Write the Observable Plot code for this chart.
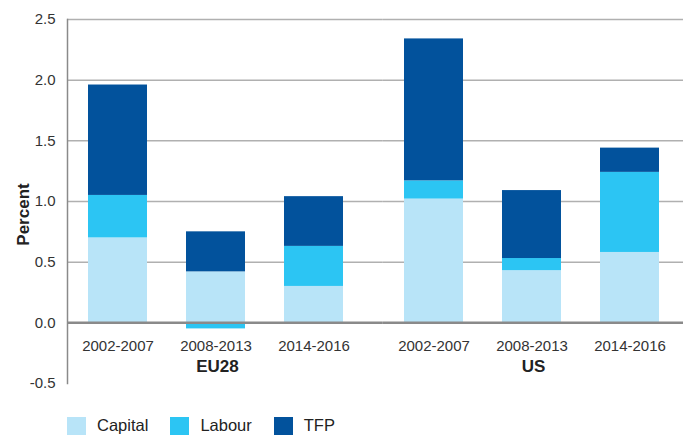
<!DOCTYPE html>
<html><head><meta charset="utf-8">
<script src="https://cdn.jsdelivr.net/npm/d3@7"></script>
<script src="https://cdn.jsdelivr.net/npm/@observablehq/plot@0.6"></script>
<style>
body{margin:0;background:#fff;font-family:"Liberation Sans",Arial,Helvetica,sans-serif;}
#chart{position:relative;width:693px;height:437px;overflow:hidden;}
#chart svg{position:absolute;left:0;top:0;}
.legend{position:absolute;left:67px;top:416px;display:flex;align-items:center;font-size:16.5px;color:#222;}
.item{display:flex;align-items:center;margin-right:22px;}
.sw{width:19px;height:18px;margin-right:11px;}
</style></head><body><div id="chart"></div>
<script>
const regions = ["EU28", "US"];
const periods = ["2002-2007", "2008-2013", "2014-2016"];
const components = ["Capital", "Labour", "TFP"];
const capital = [0.70, 0.42, 0.30, 1.02, 0.43, 0.58];
const labour  = [0.35, -0.05, 0.33, 0.15, 0.10, 0.66];
const tfp     = [0.91, 0.33, 0.41, 1.17, 0.56, 0.20];
const colors = ["#b8e4f8", "#2cc5f3", "#02529c"];
const yTicks = [-0.5, 0, 0.5, 1.0, 1.5, 2.0, 2.5];

const series = [capital, labour, tfp];
const rows = [];
regions.forEach((r, ri) => periods.forEach((p, pi) => {
  components.forEach((c, ci) => rows.push({region: r, period: p, component: c, value: series[ci][ri * 3 + pi]}));
}));
const labelRows = regions.flatMap(r => periods.map(p => ({region: r, period: p})));
const gridTicks = yTicks.filter(t => t > 0);
const gridEU = gridTicks.map(t => ({region: "EU28", t}));
const gridUS = gridTicks.map(t => ({region: "US", t}));

const W = 693, H = 400, mL = 66, mR = 9;
const fxPad = 0.05;
const gap = (W - mL - mR) / (2 - fxPad) * fxPad;

const plot = Plot.plot({
  width: W, height: H,
  marginLeft: mL, marginRight: mR, marginTop: 19, marginBottom: 17,
  style: {fontFamily: '"Liberation Sans", Arial, Helvetica, sans-serif', color: "#222", background: "#fff"},
  fx: {domain: regions, paddingInner: fxPad, paddingOuter: 0, axis: null},
  x: {domain: periods, paddingInner: 0.4, paddingOuter: 0.23, align: 0.46, axis: null},
  y: {domain: [-0.5, 2.5], axis: null},
  color: {domain: components, range: colors},
  marks: [
    Plot.ruleY(gridEU, {fx: "region", y: "t", stroke: "#b0b0b0", strokeWidth: 1.5, insetRight: -gap}),
    Plot.ruleY(gridUS, {fx: "region", y: "t", stroke: "#b0b0b0", strokeWidth: 1.5}),
    Plot.barY(rows, {fx: "region", x: "period", y: "value", fill: "component", z: "component"}),
    Plot.ruleY(gridEU.slice(0, 1), {fx: "region", y: () => 0, stroke: "#8a8a8a", strokeWidth: 2.5, insetRight: -gap}),
    Plot.ruleY(gridUS.slice(0, 1), {fx: "region", y: () => 0, stroke: "#8a8a8a", strokeWidth: 2.5}),
    Plot.frame({anchor: "left", facetAnchor: "left", stroke: "#8a8a8a", strokeWidth: 1.5}),
    Plot.axisY(yTicks, {facetAnchor: "left", tickSize: 0, tickPadding: 12, tickFormat: d => d.toFixed(1), fontSize: 15, label: null, fill: "#333"}),
    Plot.text(["Percent"], {fx: () => "EU28", frameAnchor: "left", textAnchor: "middle", rotate: -90, dx: -44, dy: 13, text: d => d, fontWeight: "bold", fontSize: 17, fill: "#222"}),
    Plot.text(labelRows, {fx: "region", x: "period", y: () => 0, dy: 23, text: "period", fontSize: 15, fill: "#333"}),
    Plot.text(regions, {fx: d => d, y: () => 0, dy: 44, frameAnchor: "middle", text: d => d, fontWeight: "bold", fontSize: 17, fill: "#222"})
  ]
});
const chart = document.getElementById("chart");
chart.appendChild(plot);

const legend = document.createElement("div");
legend.className = "legend";
components.forEach((c, i) => {
  const item = document.createElement("div");
  item.className = "item";
  const sw = document.createElement("span");
  sw.className = "sw";
  sw.style.background = colors[i];
  const lab = document.createElement("span");
  lab.textContent = c;
  item.appendChild(sw); item.appendChild(lab);
  legend.appendChild(item);
});
chart.appendChild(legend);
</script>
</body></html>
